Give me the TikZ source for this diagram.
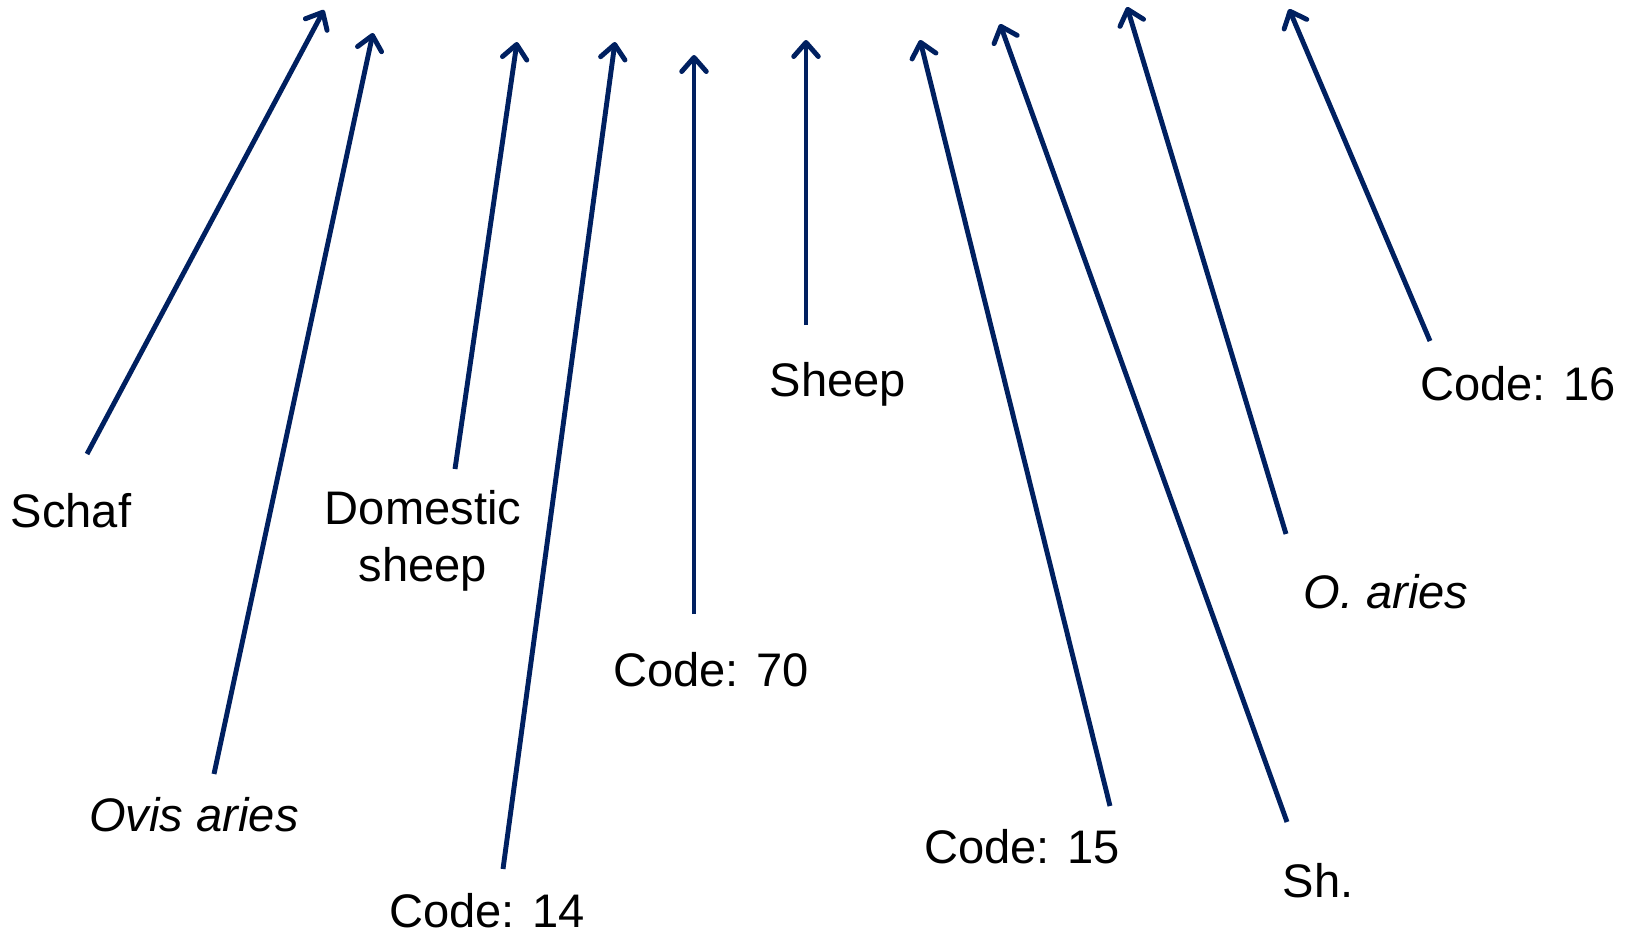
\documentclass[tikz,border=0pt]{standalone}
\usepackage{fontspec}
\setmainfont{Liberation Sans}
\usetikzlibrary{arrows.meta}
\definecolor{navy}{RGB}{0,32,96}
\begin{document}
\begin{tikzpicture}[x=0.02cm,y=-0.02cm,
		pointer/.style={draw=navy,line width=2.8pt,-{Straight Barb[length=8pt,width=14pt,round]}},
		lbl/.style={inner sep=0pt,font=\fontsize{26.8}{32.5}\selectfont,align=center}]
		\useasboundingbox (0,0) rectangle (1639,933);
		% labels
		\node[lbl] (schaf) at (71,511) {Schaf};
		\node[lbl] (ovis) at (194,815) {\itshape Ovis aries};
		\node[lbl] (domestic) at (423,541) {Domestic\\sheep};
		\node[lbl] (code14) at (487,911) {Code: 14};
		\node[lbl] (code70) at (711,670) {Code: 70};
		\node[lbl] (sheep) at (838,384) {Sheep};
		\node[lbl] (code15) at (1022,847) {Code: 15};
		\node[lbl] (sh) at (1318,881) {Sh.};
		\node[lbl] (oaries) at (1386,592) {\itshape O. aries};
		\node[lbl] (code16) at (1518,384) {Code: 16};
		% arrow ends
		\coordinate (schafT) at (87,454);    \coordinate (schafH) at (324,10);
		\coordinate (ovisT) at (214,774);    \coordinate (ovisH) at (373,33);
		\coordinate (domesticT) at (455,469); \coordinate (domesticH) at (517,42);
		\coordinate (code14T) at (503,869);  \coordinate (code14H) at (615,42);
		\coordinate (code70T) at (694,614);  \coordinate (code70H) at (694,55);
		\coordinate (sheepT) at (806,325);   \coordinate (sheepH) at (806,40);
		\coordinate (code15T) at (1110,806); \coordinate (code15H) at (920,40);
		\coordinate (shT) at (1287,822);     \coordinate (shH) at (1000,24);
		\coordinate (oariesT) at (1286,534); \coordinate (oariesH) at (1127,7);
		\coordinate (code16T) at (1430,341); \coordinate (code16H) at (1289,9);
		\foreach \n in {schaf,ovis,domestic,code14,code70,sheep,code15,sh,oaries,code16}
			\draw[pointer] (\n T) -- (\n H);
	\end{tikzpicture}
\end{document}
